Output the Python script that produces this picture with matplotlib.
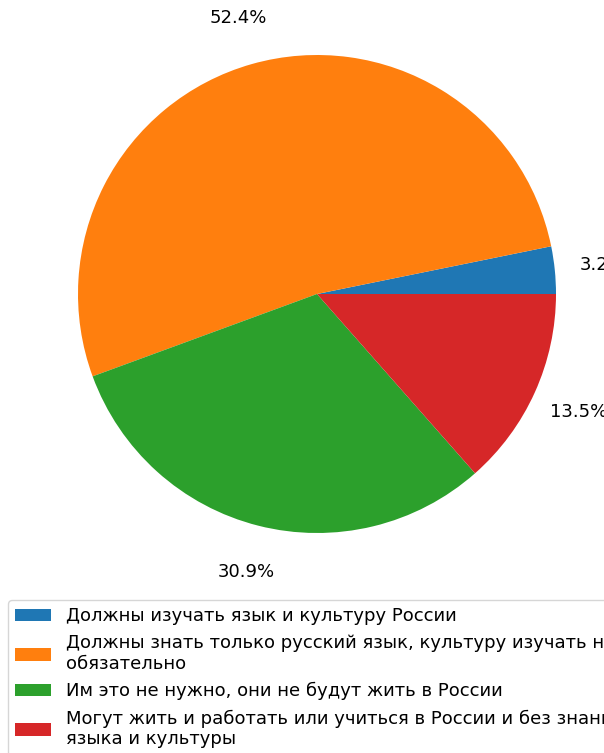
import matplotlib.pyplot as plt

# Survey answers and their shares (%)
labels = [
    'Должны изучать язык и культуру России',
    'Должны знать только русский язык, культуру изучать не\nобязательно',
    'Им это не нужно, они не будут жить в России',
    'Могут жить и работать или учиться в России и без знания\nязыка и культуры',
]
shares = [3.2, 52.4, 30.9, 13.5]

plt.rcParams['font.size'] = 13

W, H = 604, 753
fig = plt.figure(figsize=(W / 100, H / 100), dpi=100)

# pie centre (317, 294) px from top-left, radius 239 px; pie axes spans 2.5 radii
cx, cy, r = 317, 294, 239
side = 2.5 * r
ax = fig.add_axes([(cx - side / 2) / W, (H - cy - side / 2) / H, side / W, side / H])

wedges, texts, autotexts = ax.pie(
    shares,
    autopct='%1.1f%%',
    pctdistance=1.2,
    startangle=0,
)

fig.legend(
    wedges, labels,
    loc='upper left',
    bbox_to_anchor=(8 / W, 1 - 600 / H),
    borderaxespad=0,
    fontsize=13,
)

fig.savefig('out.png', dpi=100)
